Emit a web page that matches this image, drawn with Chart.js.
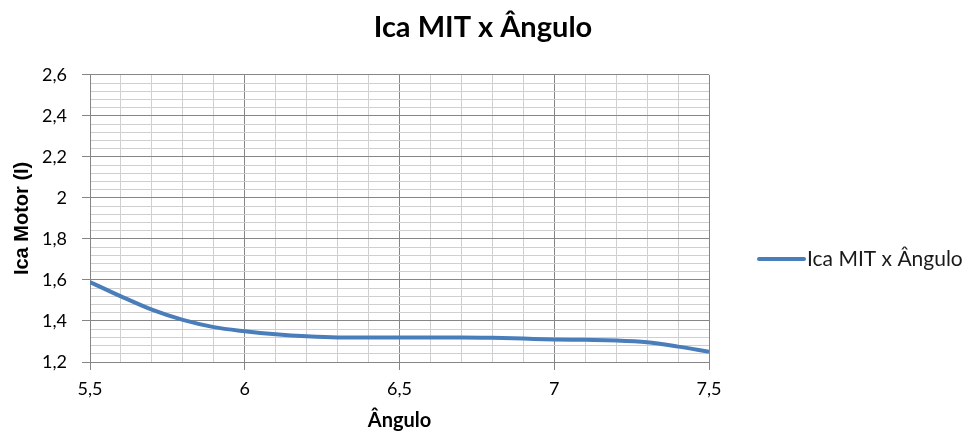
<!DOCTYPE html>
<html>
<head>
<meta charset="utf-8">
<script src="https://cdn.jsdelivr.net/npm/chart.js@4"></script>
<style>
  html, body { margin: 0; padding: 0; background: #fff; }
  #wrap { width: 966px; height: 438px; }
</style>
</head>
<body>
<div id="wrap"><canvas id="grafico"></canvas></div>
<script>
const angulo = [5.5, 5.6, 5.7, 5.8, 5.9, 6.0, 6.1, 6.2, 6.3, 6.4, 6.5, 6.6, 6.7, 6.8, 6.9, 7.0, 7.1, 7.2, 7.3, 7.4, 7.5];
const icaMotor = [1.59, 1.52, 1.455, 1.405, 1.37, 1.35, 1.335, 1.325, 1.32, 1.32, 1.32, 1.32, 1.32, 1.318, 1.314, 1.31, 1.308, 1.305, 1.296, 1.275, 1.25];
const serieNome = 'Ica MIT x Ângulo';

const azul = '#4a7ebb';
const gradeForte = '#868686';
const gradeFraca = '#cfcfcf';

function ehMultiplo(v, passo) {
    const q = v / passo;
    return Math.abs(q - Math.round(q)) < 1e-6;
}
function virgula(v) {
    return String(Math.round(v * 10) / 10).replace('.', ',');
}

// legenda desenhada à direita, no estilo do Excel
const legendaExcel = {
    id: 'legendaExcel',
    afterDraw(chart) {
        const ctx = chart.ctx;
        const ds = chart.data.datasets[0];
        ctx.save();
        ctx.strokeStyle = ds.borderColor;
        ctx.lineWidth = 4;
        ctx.lineCap = 'round';
        ctx.beginPath();
        ctx.moveTo(759, 259);
        ctx.lineTo(804, 259);
        ctx.stroke();
        ctx.fillStyle = '#1a1a1a';
        ctx.font = '21px Lato';
        ctx.textBaseline = 'middle';
        ctx.fillText(ds.label, 807, 259);
        ctx.restore();
    }
};

const pontos = angulo.map((a, i) => ({x: a, y: icaMotor[i]}));

new Chart(document.getElementById('grafico'), {
    type: 'scatter',
    data: {
        datasets: [{
            label: serieNome,
            data: pontos,
            showLine: true,
            borderColor: azul,
            backgroundColor: azul,
            borderWidth: 4,
            pointRadius: 0,
            cubicInterpolationMode: 'monotone'
        }]
    },
    options: {
        responsive: true,
        maintainAspectRatio: false,
        animation: false,
        layout: { padding: 0 },
        plugins: {
            legend: { display: false },
            tooltip: { enabled: false },
            title: {
                display: true,
                text: 'Ica MIT x Ângulo',
                color: '#000',
                font: { family: 'Lato', size: 29, weight: 'bold' },
                padding: { top: 10, bottom: 30 }
            }
        },
        scales: {
            x: {
                type: 'linear',
                min: 5.5,
                max: 7.5,
                afterFit(s) { s.height = 76; },
                ticks: {
                    stepSize: 0.1,
                    autoSkip: false,
                    maxRotation: 0,
                    padding: 8,
                    color: '#000',
                    font: { family: 'Lato', size: 18 },
                    callback: (v) => ehMultiplo(v, 0.5) ? virgula(v) : ''
                },
                grid: {
                    color: (c) => ehMultiplo(c.tick.value, 0.5) ? gradeForte : gradeFraca,
                    tickColor: (c) => ehMultiplo(c.tick.value, 0.5) ? gradeForte : 'rgba(0,0,0,0)',
                    tickLength: 8,
                    lineWidth: 1
                },
                border: { color: gradeForte },
                title: {
                    display: true,
                    text: 'Ângulo',
                    color: '#000',
                    font: { family: 'Lato', size: 20, weight: 'bold' },
                    padding: { top: 0, bottom: 5 }
                }
            },
            y: {
                min: 1.2,
                max: 2.6,
                afterFit(s) { s.width = 90; },
                ticks: {
                    stepSize: 0.04,
                    autoSkip: false,
                    padding: 15,
                    color: '#000',
                    font: { family: 'Lato', size: 18 },
                    callback: (v) => ehMultiplo(v, 0.2) ? virgula(v) : ''
                },
                grid: {
                    color: (c) => ehMultiplo(c.tick.value, 0.2) ? gradeForte : gradeFraca,
                    tickColor: (c) => ehMultiplo(c.tick.value, 0.2) ? gradeForte : 'rgba(0,0,0,0)',
                    tickLength: 8,
                    lineWidth: 1
                },
                border: { color: gradeForte },
                title: {
                    display: true,
                    text: 'Ica Motor (I)',
                    color: '#000',
                    font: { family: 'Liberation Sans', size: 20, weight: 'bold' },
                    padding: { top: 10, bottom: 0 }
                }
            },
            // eixo vazio à direita só para reservar o espaço da legenda
            espacoLegenda: {
                position: 'right',
                afterFit(s) { s.width = 257; },
                ticks: { display: false },
                grid: { display: false },
                border: { display: false }
            }
        }
    },
    plugins: [legendaExcel]
});
</script>
</body>
</html>
